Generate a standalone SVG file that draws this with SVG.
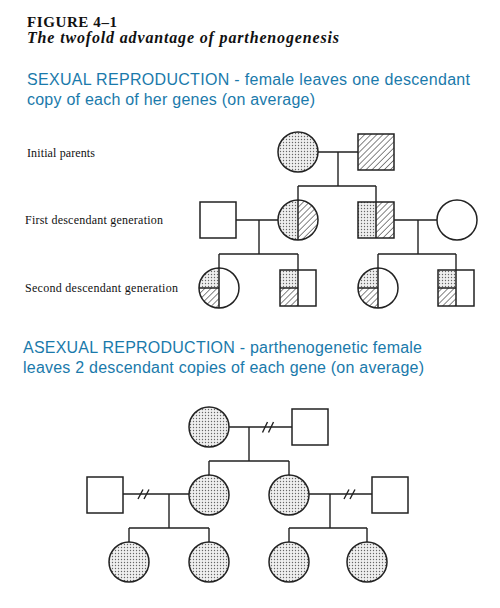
<svg xmlns="http://www.w3.org/2000/svg" width="500" height="608" viewBox="0 0 500 608">
<style>
.ln{stroke:#222;stroke-width:1.4;fill:none}
.sym{stroke:#222;stroke-width:1.5}
.wh{fill:#fff}
.dot{fill:url(#dots)}
.hat{fill:url(#hatch)}
.lbl{font-family:"Liberation Serif",serif;font-size:12px;fill:#111}
.blue{font-family:"Liberation Sans",Arial,sans-serif;font-size:16px;fill:#1a7aab}
</style>
<defs>
<pattern id="dots" width="3" height="3" patternUnits="userSpaceOnUse">
<rect width="3" height="3" fill="#efefef"/>
<circle cx="1.5" cy="1.5" r="0.7" fill="#666"/>
</pattern>
<pattern id="hatch" width="4.3" height="4.3" patternUnits="userSpaceOnUse" patternTransform="rotate(45)">
<rect width="4.3" height="4.3" fill="#fff"/>
<line x1="0" y1="0" x2="0" y2="4.3" stroke="#222" stroke-width="1.1"/>
</pattern>
</defs>
<rect width="500" height="608" fill="#fff"/>

<g id="titles">
<text x="27" y="27" font-family="Liberation Serif,serif" font-weight="bold" font-size="15" textLength="90" fill="#111">FIGURE 4–1</text>
<text x="27" y="43" font-family="Liberation Serif,serif" font-weight="bold" font-style="italic" font-size="16" textLength="312" fill="#111">The twofold advantage of parthenogenesis</text>
<text class="blue" x="27" y="85" textLength="443">SEXUAL REPRODUCTION - female leaves one descendant</text>
<text class="blue" x="27" y="105" textLength="288">copy of each of her genes (on average)</text>
<text class="blue" x="23" y="353" textLength="399">ASEXUAL REPRODUCTION - parthenogenetic female</text>
<text class="blue" x="23" y="373" textLength="401">leaves 2 descendant copies of each gene (on average)</text>
</g>

<g id="labels">
<text class="lbl" x="27" y="157" textLength="68">Initial parents</text>
<text class="lbl" x="25" y="224" textLength="138">First descendant generation</text>
<text class="lbl" x="25" y="292" textLength="153">Second descendant generation</text>
</g>

<g id="connectors">
<path class="ln" d="M318,152 H358 M338,152 V186 M298,186 H376 M298,186 V200 M376,186 V202"/>
<path class="ln" d="M236,220 H278 M259,220 V254 M219,254 H298 M219,254 V268 M298,254 V270"/>
<path class="ln" d="M394,220 H437 M418,220 V254 M378,254 H456 M378,254 V268 M456,254 V270"/>
<path class="ln" d="M229,427 H292 M249,427 V461 M209,461 H289 M209,461 V475 M289,461 V475"/>
<path class="ln" d="M123,494 H189 M169,494 V528 M129,528 H209 M129,528 V542 M209,528 V542"/>
<path class="ln" d="M309,494 H372 M330,494 V528 M289,528 H367 M289,528 V542 M367,528 V542"/>
<path class="ln" stroke-width="1.2" d="M262.5,432.5 L267.5,422 M268.5,432.5 L273.5,422"/>
<path class="ln" stroke-width="1.2" d="M138,499 L143,489.5 M144,499 L149,489.5"/>
<path class="ln" stroke-width="1.2" d="M344,499 L349,489.5 M350,499 L355,489.5"/>
</g>

<g id="p1"><circle class="sym dot" cx="298" cy="152" r="20"/></g>
<g id="p2"><rect class="sym hat" x="358" y="134" width="36" height="36"/></g>

<g id="g1a"><rect class="sym wh" x="200" y="202" width="36" height="36"/></g>
<g id="g1b">
<path class="dot" d="M298,200 A20,20 0 0 0 298,240 Z"/>
<path class="hat" d="M298,200 A20,20 0 0 1 298,240 Z"/>
<circle class="sym" fill="none" cx="298" cy="220" r="20"/>
<line class="sym" x1="298" y1="200" x2="298" y2="240"/>
</g>
<g id="g1c">
<rect class="dot" x="358" y="202" width="18" height="36"/>
<rect class="hat" x="376" y="202" width="18" height="36"/>
<rect class="sym" fill="none" x="358" y="202" width="36" height="36"/>
<line class="sym" x1="376" y1="202" x2="376" y2="238"/>
</g>
<g id="g1d"><circle class="sym wh" cx="457" cy="220" r="20"/></g>

<g id="g2a">
<circle class="wh" cx="219" cy="288" r="20"/>
<path class="dot" d="M219,268 A20,20 0 0 0 199,288 H219 Z"/>
<path class="hat" d="M199,288 A20,20 0 0 0 219,308 V288 Z"/>
<circle class="sym" fill="none" cx="219" cy="288" r="20"/>
<path class="sym" fill="none" d="M219,268 V308 M199,288 H219"/>
</g>
<g id="g2b">
<rect class="wh" x="280" y="270" width="36" height="36"/>
<rect class="dot" x="280" y="270" width="18" height="18"/>
<rect class="hat" x="280" y="288" width="18" height="18"/>
<rect class="sym" fill="none" x="280" y="270" width="36" height="36"/>
<path class="sym" fill="none" d="M298,270 V306 M280,288 H298"/>
</g>
<g id="g2c">
<circle class="wh" cx="378" cy="288" r="20"/>
<path class="dot" d="M378,268 A20,20 0 0 0 358,288 H378 Z"/>
<path class="hat" d="M358,288 A20,20 0 0 0 378,308 V288 Z"/>
<circle class="sym" fill="none" cx="378" cy="288" r="20"/>
<path class="sym" fill="none" d="M378,268 V308 M358,288 H378"/>
</g>
<g id="g2d">
<rect class="wh" x="438" y="270" width="36" height="36"/>
<rect class="dot" x="438" y="270" width="18" height="18"/>
<rect class="hat" x="438" y="288" width="18" height="18"/>
<rect class="sym" fill="none" x="438" y="270" width="36" height="36"/>
<path class="sym" fill="none" d="M456,270 V306 M438,288 H456"/>
</g>

<g id="a1"><circle class="sym dot" cx="209" cy="427" r="20"/></g>
<g id="a2"><rect class="sym wh" x="292" y="409" width="36" height="36"/></g>
<g id="a3"><rect class="sym wh" x="87" y="477" width="36" height="36"/></g>
<g id="a4"><circle class="sym dot" cx="209" cy="495" r="20"/></g>
<g id="a5"><circle class="sym dot" cx="289" cy="495" r="20"/></g>
<g id="a6"><rect class="sym wh" x="372" y="477" width="36" height="36"/></g>
<g id="a7"><circle class="sym dot" cx="129" cy="562" r="20"/></g>
<g id="a8"><circle class="sym dot" cx="209" cy="562" r="20"/></g>
<g id="a9"><circle class="sym dot" cx="289" cy="562" r="20"/></g>
<g id="a10"><circle class="sym dot" cx="367" cy="562" r="20"/></g>
</svg>
